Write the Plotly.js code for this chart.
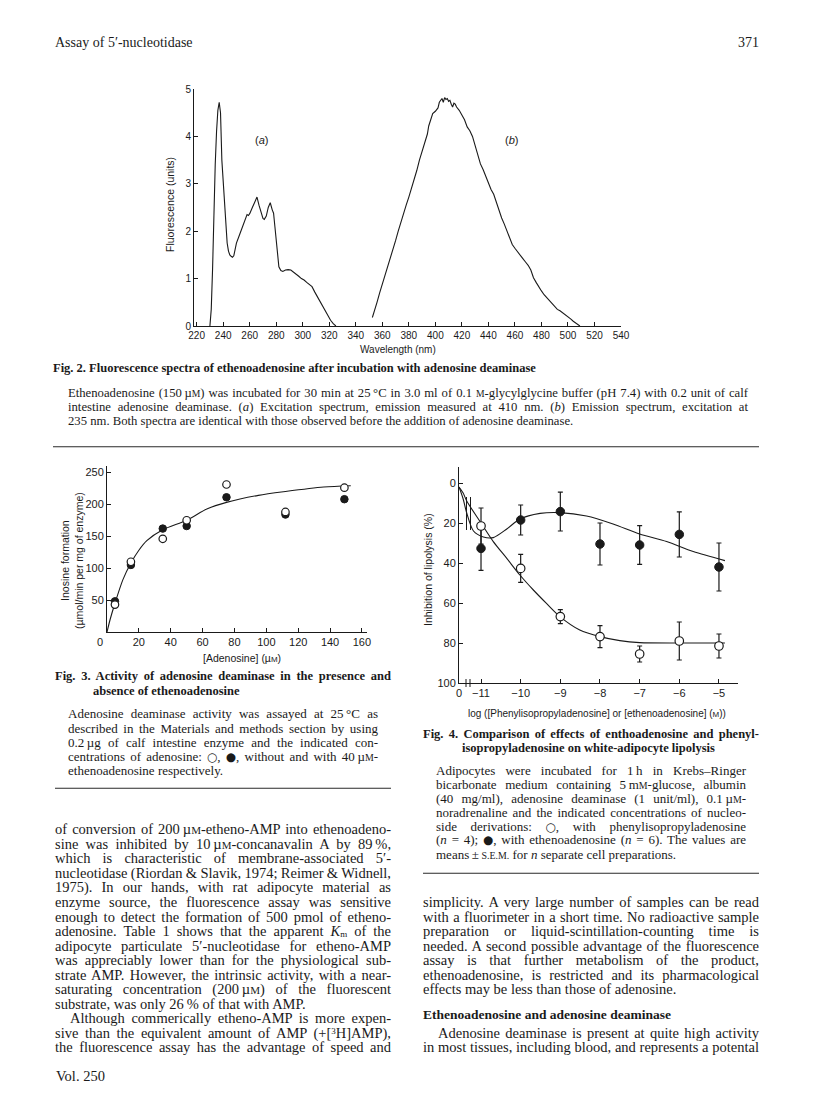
<!DOCTYPE html>
<html><head><meta charset="utf-8">
<script src="https://cdn.plot.ly/plotly-3.0.1.min.js"></script>
<style>
html,body{margin:0;padding:0;background:#fff;}
#page{position:relative;width:816px;height:1104px;overflow:hidden;background:#fff;}
#chart{position:absolute;left:0;top:0;width:816px;height:1104px;}
.ln{position:absolute;white-space:nowrap;font-family:'Liberation Serif','Times New Roman',serif;color:#1a1a1a;line-height:15px;}
.b{font-weight:bold;}
.sc{font-size:0.76em;}
.sym{font-family:'DejaVu Sans',sans-serif;font-size:0.9em;}
sub{font-size:0.62em;line-height:0;vertical-align:-0.12em;}
sup{font-size:0.62em;line-height:0;vertical-align:0.45em;}
</style></head>
<body><div id="page"><div id="chart"></div></div>
<script>
// ---------- Fig. 2 data: fluorescence spectra ----------
const wavelengthA = [230,231,232,233,234,235,236,237,238,239,240,241,242,243,244,245,246,247,248,249,250,252,254,256,257,258,259,260,262,264,265.5,267,268.5,270,271,272.5,274,275.5,277,278,279,280,281,282,283.5,285,287,289,291,293,295,297,299,301,303,305,307,309,311,313,315,317,319,321,323,325];
const fluorA = [0,0.35,1.2,2.5,3.4,4.1,4.55,4.72,4.5,3.5,3.1,2.6,2.1,1.75,1.58,1.5,1.47,1.45,1.48,1.6,1.75,1.9,2.05,2.2,2.3,2.35,2.33,2.37,2.5,2.62,2.72,2.55,2.38,2.27,2.25,2.32,2.5,2.6,2.45,2.38,2.1,1.75,1.45,1.25,1.17,1.15,1.18,1.19,1.18,1.14,1.1,1.05,1.0,0.97,0.92,0.88,0.83,0.72,0.62,0.5,0.4,0.3,0.2,0.12,0.05,0];
const wavelengthB = [352.5,354,356,358,360,362,364,366,368,370,372,374,376,378,380,382,384,386,388,390,392,394,395,396,398,400,402,403,404,405,406,407,408,409,410,411,412,413,414,415,416,418,420,422,424,426,428,430,432,434,436,438,440,442,444,446,448,450,452,454,456,458,460,462,464,466,468,470,472,474,476,478,480,482,484,486,488,490,492,494,496,498,500,502,504,506,508,509];
const fluorB = [0.18,0.3,0.5,0.7,0.88,1.05,1.23,1.4,1.6,1.8,2.0,2.2,2.38,2.55,2.72,2.9,3.08,3.28,3.5,3.7,3.88,4.05,4.22,4.3,4.48,4.53,4.6,4.72,4.75,4.8,4.72,4.82,4.78,4.8,4.74,4.76,4.68,4.62,4.7,4.68,4.62,4.55,4.45,4.35,4.2,4.12,4.0,3.82,3.62,3.42,3.3,3.15,3.0,2.88,2.78,2.6,2.42,2.28,2.15,2.0,1.85,1.72,1.64,1.56,1.48,1.42,1.35,1.28,1.18,1.02,0.92,0.82,0.74,0.66,0.6,0.52,0.46,0.4,0.35,0.32,0.28,0.24,0.2,0.15,0.1,0.06,0.02,0];
const wavelengthTicks = [220,240,260,280,300,320,340,360,380,400,420,440,460,480,500,520,540];
const fluorTicks = [0,1,2,3,4,5];

// ---------- Fig. 3 data: adenosine deaminase activity ----------
const adenosine = [5,15,35,50,75,112,149];
const rateWithout = [43,110,146,175,231,188,226];   // open circles
const rateWith = [48,105,162,166,211,184,208];      // filled circles
const fitAdenosine = [0,2,5,10,15,20,25,35,50,63,75,95,112,136,153];
const fitRate = [0,20,45,82,108,128,143,160,175,193,203,214,220,227,229];
const adenosineTicks = [20,40,60,80,100,120,140,160];   // the shared origin "0" is set at the corner
const rateTicks = [50,100,150,200,250];

// ---------- Fig. 4 data: inhibition of lipolysis ----------
const controlPos = -11.555;  // broken-axis position of zero concentration
const logConc = [-11,-10,-9,-8,-7,-6,-5];
const piaInhib = [21.5,42.7,66.8,76.8,85.5,79,81.5];   // open circles
const piaSem = [9,7,3.5,5.5,4,9.5,6];
const ethInhib = [32.7,18.5,14.3,30.5,31,25.7,42];     // filled circles
const ethSem = [11,7.5,9.7,10.5,9.7,11.3,12];
const piaFitX = [controlPos,-11.45,-11.36,-11.0,-10.69,-10.35,-10.02,-9.68,-9.35,-9.01,-8.51,-8.0,-7.5,-7.0,-6.0,-4.85];
const piaFitY = [2,5,9,20,29.3,37.7,46,53.5,60.2,66.8,73.5,76.8,78.8,79.8,80,80];
const ethFitX = [controlPos,-11.45,-11.36,-11.19,-10.94,-10.69,-10.35,-10.02,-9.51,-9.01,-8.34,-7.67,-7.0,-6.32,-5.65,-4.85];
const ethFitY = [2,8,15,24,27,27.3,23,18,15.2,14.8,16.5,20.5,25.5,29.3,34.3,38.8];
const logTickVals = [controlPos,-11,-10,-9,-8,-7,-6,-5];
const logTickText = ['0','\u221211','\u221210','\u22129','\u22128','\u22127','\u22126','\u22125'];
const inhibTicks = [0,20,40,60,80,100];

// ---------- page text ----------
const M = '<span class="sc">M</span>';
const OPEN = '<span class="sym">\u25cb</span>', FILL = '<span class="sym">\u25cf</span>';
const BODY = 14.5, CAP = 13, CAPT = 12.5;
const textLines = [
 {h:'Assay of 5\u2032-nucleotidase', x:55, y:43, s:14},
 {h:'371', x:759, y:43, s:14, r:1},
 {h:'Fig. 2. Fluorescence spectra of ethenoadenosine after incubation with adenosine deaminase', x:53, y:369.3, s:CAPT, b:1},
 {h:'Ethenoadenosine (150&#8201;\u00b5'+M+') was incubated for 30 min at 25&#8201;\u00b0C in 3.0 ml of 0.1 '+M+'-glycylglycine buffer (pH 7.4) with 0.2 unit of calf', x:68, y:394, w:680, s:12.7},
 {h:'intestine adenosine deaminase. (<i>a</i>) Excitation spectrum, emission measured at 410 nm. (<i>b</i>) Emission spectrum, excitation at', x:68, y:408.3, w:680, s:12.7},
 {h:'235 nm. Both spectra are identical with those observed before the addition of adenosine deaminase.', x:68, y:422.7, s:12.7},
 {h:'Fig. 3. Activity of adenosine deaminase in the presence and', x:55, y:677.5, w:336, s:CAPT, b:1},
 {h:'absence of ethenoadenosine', x:93, y:692, s:CAPT, b:1},
 {h:'Adenosine deaminase activity was assayed at 25&#8201;\u00b0C as', x:68, y:714.5, w:310, s:CAP},
 {h:'described in the Materials and methods section by using', x:68, y:729, w:310, s:CAP},
 {h:'0.2&#8201;\u00b5g of calf intestine enzyme and the indicated con-', x:68, y:743, w:310, s:CAP},
 {h:'centrations of adenosine: '+OPEN+', '+FILL+', without and with 40&#8201;\u00b5'+M+'-', x:68, y:757, w:310, s:CAP},
 {h:'ethenoadenosine respectively.', x:68, y:771, s:CAP},
 {h:'Fig. 4. Comparison of effects of enthoadenosine and phenyl-', x:423, y:735, w:336, s:CAPT, b:1},
 {h:'isopropyladenosine on white-adipocyte lipolysis', x:462, y:749.3, s:CAPT, b:1},
 {h:'Adipocytes were incubated for 1&#8201;h in Krebs\u2013Ringer', x:436, y:771, w:310, s:CAP},
 {h:'bicarbonate medium containing 5&#8201;m'+M+'-glucose, albumin', x:436, y:785, w:310, s:CAP},
 {h:'(40 mg/ml), adenosine deaminase (1 unit/ml), 0.1&#8201;\u00b5'+M+'-', x:436, y:799.3, w:310, s:CAP},
 {h:'noradrenaline and the indicated concentrations of nucleo-', x:436, y:813.3, w:310, s:CAP},
 {h:'side derivations: '+OPEN+', with phenylisopropyladenosine', x:436, y:827.3, w:310, s:CAP},
 {h:'(<i>n</i> = 4); '+FILL+', with ethenoadenosine (<i>n</i> = 6). The values are', x:436, y:840.7, w:310, s:CAP},
 {h:'means\u2009\u00b1\u2009<span class="sc">S.E.M.</span> for <i>n</i> separate cell preparations.', x:436, y:855, s:CAP},
 {h:'Ethenoadenosine and adenosine deaminase', x:423, y:1015, s:13.5, b:1},
 {h:'Vol. 250', x:56, y:1077, s:BODY}
];
const leftBody = [
 'of conversion of 200&#8201;\u00b5'+M+'-etheno-AMP into ethenoadeno-',
 'sine was inhibited by 10&#8201;\u00b5'+M+'-concanavalin A by 89&#8201;%,',
 'which is characteristic of membrane-associated 5\u2032-',
 'nucleotidase (Riordan &amp; Slavik, 1974; Reimer &amp; Widnell,',
 '1975). In our hands, with rat adipocyte material as',
 'enzyme source, the fluorescence assay was sensitive',
 'enough to detect the formation of 500 pmol of etheno-',
 'adenosine. Table 1 shows that the apparent <i>K</i><sub>m</sub> of the',
 'adipocyte particulate 5\u2032-nucleotidase for etheno-AMP',
 'was appreciably lower than for the physiological sub-',
 'strate AMP. However, the intrinsic activity, with a near-',
 'saturating concentration (200&#8201;\u00b5'+M+') of the fluorescent',
 'substrate, was only 26&#8201;% of that with AMP.',
 'Although commerically etheno-AMP is more expen-',
 'sive than the equivalent amount of AMP (+[<sup>3</sup>H]AMP),',
 'the fluorescence assay has the advantage of speed and'
];
const rightBody = [
 'simplicity. A very large number of samples can be read',
 'with a fluorimeter in a short time. No radioactive sample',
 'preparation or liquid-scintillation-counting time is',
 'needed. A second possible advantage of the fluorescence',
 'assay is that further metabolism of the product,',
 'ethenoadenosine, is restricted and its pharmacological',
 'effects may be less than those of adenosine.'
];
const rightBody2 = [
 'Adenosine deaminase is present at quite high activity',
 'in most tissues, including blood, and represents a potental'
];

const BODY_Y0 = 830.7, BODY_DY = 14.55;
leftBody.forEach((h,i)=>{
  const indent = (i===13)?15:0;
  const last = (i===12);
  textLines.push({h:h, x:55+indent, y:BODY_Y0+BODY_DY*i, w:last?0:336-indent, s:BODY});
});
rightBody.forEach((h,i)=>{
  textLines.push({h:h, x:423, y:BODY_Y0+BODY_DY*(i+5), w:(i===rightBody.length-1)?0:336, s:BODY});
});
rightBody2.forEach((h,i)=>{
  textLines.push({h:h, x:438-(i?15:0), y:BODY_Y0+BODY_DY*(i+14), w:i?336:321, s:BODY});
});

// ---------- chart ----------
const W=816, H=1104;
const px = v => v/W, py = v => 1 - v/H;
const INK = '#1a1a1a';
const SANS = 'Liberation Sans, Arial, sans-serif';
const axBase = {showline:true, linecolor:INK, linewidth:1, ticks:'inside', ticklen:4, tickwidth:1, tickcolor:INK,
  showgrid:false, zeroline:false, fixedrange:true, tickfont:{family:SANS, size:10, color:INK}};
const tf11 = {family:SANS, size:11, color:INK};

const data = [
  {x:wavelengthA, y:fluorA, xaxis:'x', yaxis:'y', mode:'lines', line:{color:INK, width:1.1}, hoverinfo:'skip'},
  {x:wavelengthB, y:fluorB, xaxis:'x', yaxis:'y', mode:'lines', line:{color:INK, width:1.1}, hoverinfo:'skip'},
  {x:fitAdenosine, y:fitRate, xaxis:'x2', yaxis:'y2', mode:'lines', line:{color:INK, width:1.1, shape:'spline', smoothing:0.8}},
  {x:adenosine, y:rateWith, xaxis:'x2', yaxis:'y2', mode:'markers', cliponaxis:false,
    marker:{symbol:'circle', size:7.5, color:INK, line:{color:INK, width:1}}},
  {x:adenosine, y:rateWithout, xaxis:'x2', yaxis:'y2', mode:'markers', cliponaxis:false,
    marker:{symbol:'circle', size:7.5, color:'#fff', line:{color:INK, width:1.2}}},
  {x:ethFitX, y:ethFitY, xaxis:'x3', yaxis:'y3', mode:'lines', line:{color:INK, width:1.1, shape:'spline', smoothing:0.8}},
  {x:piaFitX, y:piaFitY, xaxis:'x3', yaxis:'y3', mode:'lines', line:{color:INK, width:1.1, shape:'spline', smoothing:0.8}},
  {x:logConc, y:ethInhib, xaxis:'x3', yaxis:'y3', mode:'markers', cliponaxis:false,
    error_y:{type:'data', array:ethSem, visible:true, thickness:1.2, width:2.5, color:INK},
    marker:{symbol:'circle', size:8.5, color:INK, line:{color:INK, width:1}}},
  {x:logConc, y:piaInhib, xaxis:'x3', yaxis:'y3', mode:'markers', cliponaxis:false,
    error_y:{type:'data', array:piaSem, visible:true, thickness:1.2, width:2.5, color:INK},
    marker:{symbol:'circle', size:8.5, color:'#fff', line:{color:INK, width:1.2}}}
];

function ann(text, x, y, size, angle){
  return {text:text, x:px(x), y:py(y), xref:'paper', yref:'paper', showarrow:false, xanchor:'center', yanchor:'middle',
    textangle:angle||0, font:{family:SANS, size:size, color:INK}};
}
function hline(x0,x1,y){ return {type:'line', xref:'paper', yref:'paper', x0:px(x0), x1:px(x1), y0:py(y), y1:py(y), line:{color:'#2a2a2a', width:1.1}}; }
function vline(x,y0,y1){ return {type:'line', xref:'paper', yref:'paper', x0:px(x), x1:px(x), y0:py(y0), y1:py(y1), line:{color:INK, width:1}}; }

const layout = {
  width:W, height:H, margin:{l:0,r:0,t:0,b:0}, paper_bgcolor:'rgba(0,0,0,0)', plot_bgcolor:'rgba(0,0,0,0)',
  showlegend:false, font:{family:SANS, color:INK},
  xaxis:Object.assign({}, axBase, {domain:[px(194),px(621)], range:[218,540], tickmode:'array', tickvals:wavelengthTicks, anchor:'y'}),
  yaxis:Object.assign({}, axBase, {domain:[py(326),py(89)], range:[0,5], tickmode:'array', tickvals:fluorTicks, anchor:'x'}),
  xaxis2:Object.assign({}, axBase, {domain:[px(107),px(366.7)], range:[0,163], tickmode:'array', tickvals:adenosineTicks, anchor:'y2', tickfont:tf11}),
  yaxis2:Object.assign({}, axBase, {domain:[py(632),py(466)], range:[0,260], tickmode:'array', tickvals:rateTicks, anchor:'x2', tickfont:tf11}),
  xaxis3:Object.assign({}, axBase, {domain:[px(459),px(738)], range:[controlPos,-4.52], tickmode:'array', tickvals:logTickVals, ticktext:logTickText, anchor:'y3', tickfont:tf11}),
  yaxis3:Object.assign({}, axBase, {domain:[py(683),py(467)], range:[100,-8], tickmode:'array', tickvals:inhibTicks, anchor:'x3', tickfont:tf11}),
  annotations:[
    ann('(<i>a</i>)', 261, 140, 11),
    ann('(<i>b</i>)', 511, 140, 11),
    ann('Wavelength (nm)', 398, 350, 10),
    ann('Fluorescence (units)', 170, 205, 10.5, -90),
    ann('0', 100, 641.5, 11),
    ann('[Adenosine] (\u00b5<span style="font-size:8px">M</span>)', 242, 658, 10.5),
    ann('Inosine formation<br>(\u00b5mol/min per mg of enzyme)', 72, 561, 10.5, -90),
    ann('Inhibition of lipolysis (%)', 428, 570, 10.5, -90),
    ann('log ([Phenylisopropyladenosine] or [ethenoadenosine] (<span style="font-size:8px">M</span>))', 597, 713, 10)
  ],
  shapes:[
    hline(53,759,446.7), hline(55,391,788.3), hline(423,759,873.3),
    vline(466.5,497,530), vline(470.5,497,530),
    vline(466,679,687), vline(470,679,687)
  ]
};

Plotly.newPlot('chart', data, layout, {staticPlot:true, displayModeBar:false});

// ---------- place text lines (justified where the original is) ----------
const page = document.getElementById('page');
textLines.forEach(t=>{
  const d = document.createElement('div');
  d.className = 'ln' + (t.b ? ' b' : '');
  d.style.fontSize = t.s + 'px';
  d.style.top = (t.y - 8.5) + 'px';
  d.innerHTML = t.h;
  page.appendChild(d);
  const nat = d.getBoundingClientRect().width;
  if (t.r) { d.style.left = (t.x - nat) + 'px'; }
  else { d.style.left = t.x + 'px'; }
  if (t.w) {
    const spaces = (d.textContent.match(/ /g) || []).length;
    if (spaces > 0) d.style.wordSpacing = ((t.w - nat) / spaces) + 'px';
  }
});
</script>
</body></html>
